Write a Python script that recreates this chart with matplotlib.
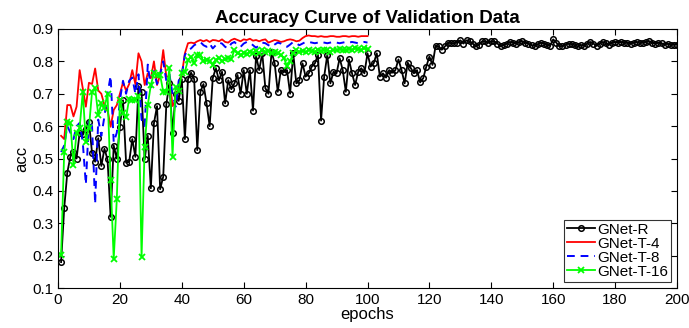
import numpy as np
import matplotlib
matplotlib.use("Agg")
import matplotlib.pyplot as plt

plt.rcParams['font.family'] = ['Liberation Sans', 'DejaVu Sans']

# GNet-R, epochs 1..200
gnet_r = [
    0.18, 0.346, 0.456, 0.506, 0.52, 0.50, 0.58, 0.575, 0.59, 0.614,
    0.517, 0.49, 0.563, 0.477, 0.53, 0.497, 0.32, 0.54, 0.50, 0.598,
    0.68, 0.487, 0.49, 0.56, 0.505, 0.724, 0.706, 0.497, 0.57, 0.408,
    0.609, 0.662, 0.405, 0.444, 0.667, 0.734, 0.58, 0.70, 0.678, 0.745,
    0.56, 0.745, 0.765, 0.745, 0.526, 0.706, 0.73, 0.67, 0.60, 0.748,
    0.779, 0.742, 0.768, 0.67, 0.742, 0.714, 0.732, 0.758, 0.70, 0.773,
    0.70, 0.773, 0.648, 0.817, 0.773, 0.825, 0.717, 0.70, 0.83, 0.794,
    0.706, 0.773, 0.768, 0.773, 0.70, 0.825, 0.732, 0.742, 0.794, 0.753,
    0.763, 0.784, 0.794, 0.82, 0.617, 0.753, 0.82, 0.732, 0.768, 0.763,
    0.81, 0.773, 0.706, 0.806, 0.763, 0.727, 0.768, 0.779, 0.763, 0.825,
    0.784, 0.794, 0.825, 0.753, 0.763, 0.75, 0.773, 0.765, 0.773, 0.806,
    0.773, 0.732, 0.796, 0.779, 0.763, 0.773, 0.735, 0.748, 0.784, 0.815,
    0.789, 0.848, 0.846, 0.836, 0.846, 0.858, 0.856, 0.856, 0.858, 0.865,
    0.855, 0.865, 0.862, 0.855, 0.846, 0.851, 0.862, 0.862, 0.858, 0.862,
    0.862, 0.855, 0.846, 0.851, 0.855, 0.86, 0.858, 0.855, 0.86, 0.862,
    0.858, 0.855, 0.85, 0.848, 0.853, 0.858, 0.855, 0.85, 0.848, 0.868,
    0.858, 0.846, 0.848, 0.852, 0.855, 0.853, 0.85, 0.846, 0.85, 0.848,
    0.855, 0.86, 0.855, 0.848, 0.855, 0.86, 0.856, 0.852, 0.858, 0.86,
    0.858, 0.86, 0.856, 0.858, 0.855, 0.858, 0.86, 0.856, 0.858, 0.86,
    0.862, 0.858, 0.855, 0.858, 0.856, 0.852, 0.855, 0.85, 0.852, 0.852,
]

# GNet-T-4, epochs 1..100
gnet_t4 = [
    0.57, 0.56, 0.665, 0.665, 0.63, 0.66, 0.773, 0.717, 0.66, 0.734,
    0.73, 0.778, 0.71, 0.70, 0.665, 0.65, 0.598, 0.65, 0.665, 0.70,
    0.735, 0.71, 0.73, 0.773, 0.73, 0.825, 0.80, 0.727, 0.763, 0.748,
    0.80, 0.727, 0.758, 0.835, 0.753, 0.753, 0.662, 0.68, 0.727, 0.758,
    0.825, 0.856, 0.858, 0.856, 0.862, 0.866, 0.862, 0.866, 0.86, 0.866,
    0.865, 0.862, 0.868, 0.86, 0.858, 0.866, 0.87, 0.866, 0.862, 0.868,
    0.866, 0.87, 0.864, 0.866, 0.862, 0.866, 0.868, 0.858, 0.862, 0.866,
    0.864, 0.86, 0.862, 0.866, 0.868, 0.866, 0.862, 0.864, 0.872, 0.878,
    0.88, 0.878, 0.878, 0.876, 0.878, 0.876, 0.876, 0.878, 0.878, 0.876,
    0.876, 0.878, 0.878, 0.876, 0.878, 0.878, 0.876, 0.878, 0.878, 0.878,
]

# GNet-T-8, epochs 1..100
gnet_t8 = [
    0.52, 0.54, 0.60, 0.58, 0.56, 0.60, 0.61, 0.55, 0.42, 0.62,
    0.60, 0.36, 0.62, 0.57, 0.63, 0.70, 0.755, 0.55, 0.58, 0.68,
    0.74, 0.70, 0.74, 0.75, 0.70, 0.76, 0.62, 0.60, 0.79, 0.72,
    0.77, 0.73, 0.76, 0.80, 0.74, 0.76, 0.70, 0.66, 0.74, 0.76,
    0.82, 0.835, 0.84, 0.85, 0.855, 0.86, 0.85, 0.845, 0.855, 0.84,
    0.85, 0.858, 0.855, 0.845, 0.84, 0.855, 0.86, 0.85, 0.845, 0.855,
    0.86, 0.858, 0.85, 0.842, 0.85, 0.858, 0.856, 0.85, 0.845, 0.852,
    0.858, 0.855, 0.848, 0.845, 0.852, 0.86, 0.855, 0.85, 0.855, 0.86,
    0.86, 0.858, 0.856, 0.858, 0.86, 0.858, 0.856, 0.858, 0.86, 0.858,
    0.856, 0.858, 0.86, 0.858, 0.86, 0.858, 0.856, 0.858, 0.86, 0.858,
]

# GNet-T-16, epochs 1..100
gnet_t16 = [
    0.202, 0.52, 0.614, 0.61, 0.48, 0.58, 0.595, 0.706, 0.55, 0.595,
    0.706, 0.717, 0.634, 0.67, 0.657, 0.70, 0.433, 0.19, 0.374, 0.68,
    0.64, 0.627, 0.685, 0.68, 0.68, 0.694, 0.196, 0.536, 0.665, 0.727,
    0.763, 0.758, 0.758, 0.706, 0.706, 0.779, 0.506, 0.72, 0.71, 0.763,
    0.768, 0.804, 0.815, 0.794, 0.82, 0.82, 0.80, 0.804, 0.80, 0.79,
    0.805, 0.81, 0.80, 0.806, 0.81, 0.808, 0.835, 0.825, 0.82, 0.826,
    0.822, 0.83, 0.826, 0.832, 0.825, 0.835, 0.828, 0.832, 0.826, 0.83,
    0.826, 0.82, 0.81, 0.785, 0.80, 0.826, 0.835, 0.83, 0.832, 0.828,
    0.835, 0.832, 0.83, 0.835, 0.832, 0.836, 0.834, 0.83, 0.836, 0.834,
    0.838, 0.836, 0.834, 0.838, 0.836, 0.84, 0.838, 0.836, 0.84, 0.838,
]

epochs_r = np.arange(1, len(gnet_r) + 1)
epochs_t = np.arange(1, len(gnet_t4) + 1)

fig = plt.figure(figsize=(6.89, 3.28), dpi=100)
ax = fig.add_axes([58/689, 40/328, 619/689, 259/328])

ax.plot(epochs_r, gnet_r, color='black', lw=1.3, marker='o', ms=4,
        mfc='none', mec='black', mew=1.1, label='GNet-R')
ax.plot(epochs_t, gnet_t4, color='red', lw=1.3, label='GNet-T-4')
ax.plot(epochs_t, gnet_t8, color='blue', lw=1.4, ls=(0, (4, 3)), label='GNet-T-8')
ax.plot(epochs_t, gnet_t16, color='#00ff00', lw=1.3, marker='x', ms=4.5,
        mew=1.3, label='GNet-T-16')

ax.set_xlim(0, 200)
ax.set_ylim(0.1, 0.9)
ax.set_xticks(np.arange(0, 201, 20))
ax.set_yticks(np.round(np.arange(0.1, 0.91, 0.1), 1))
ax.set_yticklabels([f'{v:.1f}' for v in np.arange(0.1, 0.91, 0.1)])
ax.tick_params(direction='in', top=True, right=True, length=4, labelsize=11, width=0.8)
for s in ax.spines.values():
    s.set_linewidth(0.8)

ax.set_title('Accuracy Curve of Validation Data', fontsize=13.5, fontweight='bold', pad=4)
ax.set_xlabel('epochs', fontsize=12, labelpad=0)
ax.set_ylabel('acc', fontsize=12, labelpad=2)

leg = ax.legend(loc='lower right', fontsize=11, frameon=True, fancybox=False,
                edgecolor='black', borderpad=0.2, labelspacing=0.0,
                handlelength=1.8, handletextpad=0.15, borderaxespad=0.4)
leg.get_frame().set_linewidth(0.8)

fig.savefig('out.png', dpi=100)
